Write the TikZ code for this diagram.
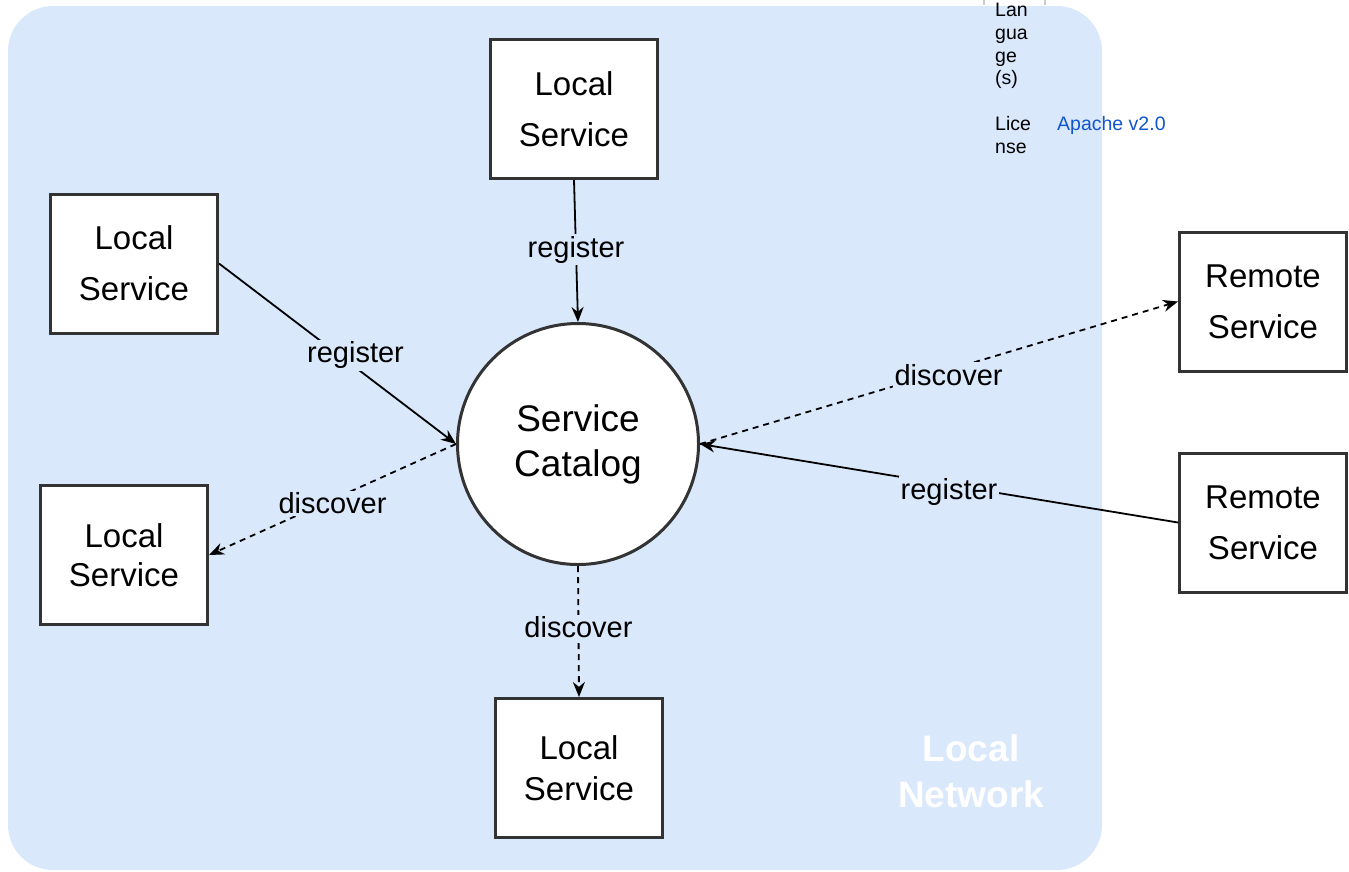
\documentclass[tikz,border=0pt]{standalone}
\usepackage{fontspec}
\setmainfont{Liberation Sans}
\usetikzlibrary{positioning,arrows.meta}

\begin{document}
\begin{tikzpicture}[
            x=1pt,y=-1pt,
            arr/.style={line width=1.8pt,-{Stealth[length=15pt,width=12pt]}},
            dashedarr/.style={arr,dash pattern=on 6pt off 5pt},
            lbl/.style={fill=netbg,inner sep=2pt,font=\fontsize{29}{35}\selectfont}
        ]
            \definecolor{netbg}{HTML}{DAE8FC}
            \definecolor{boxline}{HTML}{333333}
            \definecolor{linkblue}{HTML}{1155CC}
            \useasboundingbox (0,0) rectangle (1349,871);

            % network area
            \fill [netbg,rounded corners=45pt] (8,6) rectangle (1102,870);
            \draw [black!20,line width=2pt] (984,0) -- (984,5) (1045,0) -- (1045,5);
            \node (net) [align=center,text=white,font=\fontsize{37}{46}\selectfont\bfseries] at (971,771) {Local\\Network};

            \begin{scope}[
                node distance=142pt,
                every node/.style={draw=boxline,line width=3pt,fill=white,align=center,
                                   minimum width=167pt,minimum height=139pt,
                                   font=\fontsize{33}{51}\selectfont}
            ]
                \node (cat) [circle,minimum size=241pt,font=\fontsize{37}{45}\selectfont] at (578,444) {Service\\Catalog};
                \node (top) [above=of cat,xshift=-4pt]                                  {Local\\Service};
                \node (bot) [below=131pt of cat,xshift=1pt,font=\fontsize{33}{41}\selectfont] {Local\\Service};
                \node (lu) at (134,263.5)                                              {Local\\Service};
                \node (ll) [font=\fontsize{33}{39}\selectfont] at (124,555)            {Local\\Service};
                \node (rt) at (1263,301.5)                                             {Remote\\Service};
                \node (rb) at (1263,522.5)                                             {Remote\\Service};
            \end{scope}

            \draw [arr]       (top.south) -- node[lbl,pos=0.49]                 {register} (cat.north);
            \draw [arr]       (lu.east)   -- node[lbl,pos=0.576,yshift=12pt]    {register} (cat.west);
            \draw [dashedarr] (cat.west)  -- node[lbl,pos=0.5,yshift=-4pt]      {discover} (ll.east);
            \draw [dashedarr] (cat.south) -- node[lbl,pos=0.47]                 {discover} (bot.north);
            \draw [dashedarr] (cat.east)  -- node[lbl,pos=0.52,yshift=-5pt]     {discover} (rt.west);
            \draw [arr]       (rb.west)   -- node[lbl,pos=0.479,yshift=-7pt]    {register} (cat.east);

            % table text at the top
            \node (lang) [anchor=north west,inner sep=0pt,align=left,font=\fontsize{19.5}{22.7}\selectfont] at (995,3.2) {Lan\\gua\\ge\\(s)\\[22.7pt]Lice\\nse};
            \node (lic) [anchor=base west,inner sep=0pt,text=linkblue,font=\fontsize{19.5}{22.7}\selectfont] at (1057,130.7) {Apache v2.0};
        \end{tikzpicture}
\end{document}
